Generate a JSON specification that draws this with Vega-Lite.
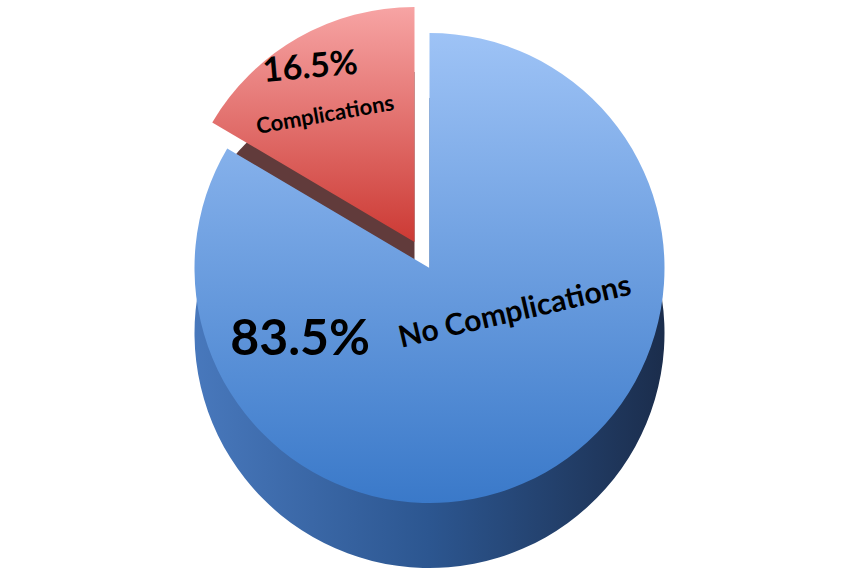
{
  "$schema": "https://vega.github.io/schema/vega-lite/v6.json",
  "width": 859,
  "height": 576,
  "autosize": {"type": "fit", "contains": "padding"},
  "padding": 0,
  "background": "white",
  "config": {"view": {"stroke": null}},
  "data": {
    "values": [
      {"category": "No Complications", "value": 83.5, "pct": "83.5%", "order": 1},
      {"category": "Complications", "value": 16.5, "pct": "16.5%", "order": 2}
    ]
  },
  "transform": [
    {"stack": "value", "groupby": [], "sort": [{"field": "order", "order": "ascending"}], "as": ["v0", "v1"]}
  ],
  "layer": [
    {
      "transform": [{"filter": "datum.category === 'No Complications'"}],
      "mark": {
        "type": "arc", "radius": 235, "yOffset": 45,
        "color": {"gradient": "linear", "x1": 0, "y1": 0, "x2": 1, "y2": 0,
          "stops": [{"offset": 0, "color": "#4878BC"}, {"offset": 0.5, "color": "#2C5690"}, {"offset": 1, "color": "#1B2D4C"}]}
      },
      "encoding": {
        "theta": {"field": "v0", "type": "quantitative", "scale": {"domain": [0, 100]}},
        "theta2": {"field": "v1"}
      }
    },
    {
      "transform": [{"filter": "datum.category === 'Complications'"}],
      "mark": {"type": "arc", "radius": 235, "xOffset": -15, "yOffset": 19, "color": "#613B3B"},
      "encoding": {
        "theta": {"field": "v0", "type": "quantitative", "scale": {"domain": [0, 100]}},
        "theta2": {"field": "v1"}
      }
    },
    {
      "transform": [{"filter": "datum.category === 'No Complications'"}],
      "mark": {
        "type": "arc", "radius": 235, "yOffset": -20,
        "color": {"gradient": "linear", "x1": 0, "y1": 0, "x2": 0, "y2": 1,
          "stops": [{"offset": 0, "color": "#9EC3F6"}, {"offset": 1, "color": "#3A79C9"}]}
      },
      "encoding": {
        "theta": {"field": "v0", "type": "quantitative", "scale": {"domain": [0, 100]}},
        "theta2": {"field": "v1"}
      }
    },
    {
      "transform": [{"filter": "datum.category === 'Complications'"}],
      "mark": {
        "type": "arc", "radius": 235, "xOffset": -15, "yOffset": -46,
        "color": {"gradient": "linear", "x1": 0, "y1": 0, "x2": 0, "y2": 1,
          "stops": [{"offset": 0, "color": "#F7A4A4"}, {"offset": 1, "color": "#CC3A34"}]}
      },
      "encoding": {
        "theta": {"field": "v0", "type": "quantitative", "scale": {"domain": [0, 100]}},
        "theta2": {"field": "v1"}
      }
    },
    {
      "transform": [{"filter": "datum.category === 'No Complications'"}],
      "mark": {"type": "text", "radius": 139.5, "font": "Lato", "fontWeight": "bold", "fontSize": 50, "color": "black", "align": "center", "baseline": "middle"},
      "encoding": {
        "theta": {"datum": 68.9, "type": "quantitative", "scale": {"domain": [0, 100]}},
        "text": {"field": "pct"}
      }
    },
    {
      "transform": [{"filter": "datum.category === 'No Complications'"}],
      "mark": {"type": "text", "radius": 88.8, "font": "Lato", "fontWeight": "bold", "fontSize": 30, "angle": -13, "color": "black", "align": "center", "baseline": "middle"},
      "encoding": {
        "theta": {"datum": 29.4, "type": "quantitative", "scale": {"domain": [0, 100]}},
        "text": {"field": "category"}
      }
    },
    {
      "transform": [{"filter": "datum.category === 'Complications'"}],
      "mark": {"type": "text", "radius": 250.4, "font": "Lato", "fontWeight": "bold", "fontSize": 34, "angle": -5, "color": "black", "align": "center", "baseline": "middle"},
      "encoding": {
        "theta": {"datum": 92.1, "type": "quantitative", "scale": {"domain": [0, 100]}},
        "text": {"field": "pct"}
      }
    },
    {
      "transform": [{"filter": "datum.category === 'Complications'"}],
      "mark": {"type": "text", "radius": 202.1, "font": "Lato", "fontWeight": "bold", "fontSize": 22, "angle": -10, "color": "black", "align": "center", "baseline": "middle"},
      "encoding": {
        "theta": {"datum": 91.36, "type": "quantitative", "scale": {"domain": [0, 100]}},
        "text": {"field": "category"}
      }
    }
  ]
}
